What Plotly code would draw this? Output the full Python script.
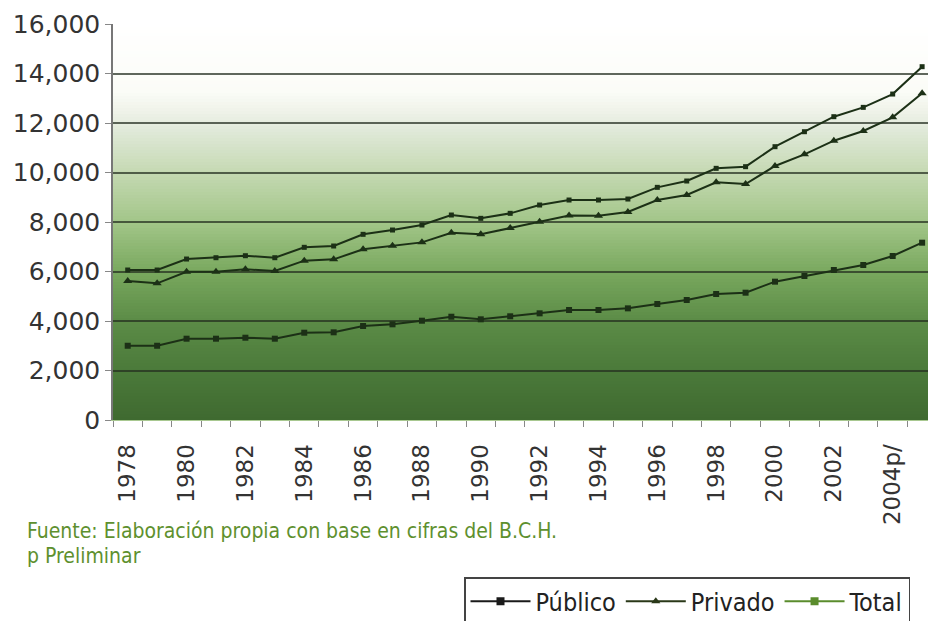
import plotly.graph_objects as go

# Años de la serie (2004 y 2005 preliminares)
years = list(range(1978, 2006))

publico = [3000, 3000, 3285, 3285, 3325, 3285, 3527, 3543, 3798, 3866,
           4012, 4173, 4068, 4190, 4310, 4444, 4444, 4511, 4686, 4848,
           5090, 5144, 5589, 5818, 6060, 6262, 6626, 7164]
privado = [5616, 5522, 5992, 5992, 6087, 6020, 6437, 6491, 6895, 7043,
           7177, 7568, 7501, 7755, 8012, 8260, 8250, 8405, 8888, 9090,
           9602, 9534, 10262, 10733, 11285, 11676, 12228, 13198]
total = [6060, 6060, 6504, 6557, 6638, 6557, 6977, 7030, 7502, 7676,
         7878, 8282, 8148, 8350, 8686, 8888, 8888, 8928, 9400, 9656,
         10168, 10235, 11043, 11648, 12255, 12632, 13170, 14275]

tick_years = list(range(1978, 2005, 2))
tick_text = [str(y) for y in tick_years[:-1]] + ["2004p/"]

W, H = 928, 621
L, R, T, B = 113, 0, 24, 201
PW, PH = W - L - R, H - T - B

LINE_DARK = "#1c3016"
LEGEND_COLORS = {"Público": "#1a1a1a", "Privado": "#2a3818", "Total": "#5a8c2c"}

fig = go.Figure()

# Series plotted in dark tones
for name, vals, sym, size in [("Público", publico, "square", 6),
                              ("Privado", privado, "triangle-up", 8),
                              ("Total", total, "square", 5)]:
    fig.add_trace(go.Scatter(
        x=years, y=vals, mode="lines+markers", name=name, showlegend=False,
        line=dict(color=LINE_DARK, width=2),
        marker=dict(symbol=sym, size=size, color=LINE_DARK),
        hoverinfo="x+y+name"))

# Legend entries
for name, sym in [("Público", "square"), ("Privado", "triangle-up"), ("Total", "square")]:
    c = LEGEND_COLORS[name]
    fig.add_trace(go.Scatter(
        x=[None], y=[None], mode="lines+markers", name=name,
        line=dict(color=c, width=2), marker=dict(symbol=sym, size=8, color=c)))

# Vertical gradient background (white at top to dark green at bottom)
stops = [(24, (255, 255, 255)), (92, (251, 252, 247)), (112, (238, 242, 232)),
         (128, (226, 234, 219)), (175, (195, 216, 176)), (225, (160, 196, 134)),
         (272, (121, 168, 94)), (320, (92, 140, 71)), (370, (75, 122, 58)),
         (420, (63, 106, 48))]


def color_at(py):
    for (y0, c0), (y1, c1) in zip(stops[:-1], stops[1:]):
        if y0 <= py <= y1:
            t = (py - y0) / (y1 - y0)
            return "rgb(%d,%d,%d)" % tuple(round(a + (b - a) * t) for a, b in zip(c0, c1))
    return "rgb(%d,%d,%d)" % stops[-1][1]


shapes = []
band = 3
for py in range(T, T + PH, band):
    y_top = 1 - (py - T) / PH
    y_bot = max(0, 1 - (py + band - T) / PH)
    shapes.append(dict(type="rect", xref="paper", yref="paper", x0=0, x1=1,
                       y0=y_bot, y1=y_top, fillcolor=color_at(py + band / 2),
                       line=dict(width=0), layer="below"))


def px_to_paper(px, py):
    return (px - L) / PW, 1 - (py - T) / PH


note_font = dict(family="Liberation Sans Narrow, DejaVu Sans Condensed, Arial Narrow, sans-serif",
                 size=21, color="#5e902e")
annotations = []
for text, py in [("Fuente: Elaboración propia con base en cifras del B.C.H.", 531),
                 ("p Preliminar", 556)]:
    ax, ay = px_to_paper(25, py)
    annotations.append(dict(text=text, x=ax, y=ay, xref="paper", yref="paper",
                            xanchor="left", yanchor="middle", showarrow=False,
                            font=note_font))

lx, ly = px_to_paper(464, 577)

fig.update_layout(
    width=W, height=H,
    margin=dict(l=L, r=R, t=T, b=B, autoexpand=False),
    paper_bgcolor="white", plot_bgcolor="rgba(0,0,0,0)",
    shapes=shapes, annotations=annotations,
    showlegend=True,
    legend=dict(orientation="h", x=lx, y=ly, xanchor="left", yanchor="top",
                bordercolor="#444444", borderwidth=1.5, bgcolor="white",
                font=dict(family="Liberation Sans Narrow, DejaVu Sans Condensed, Arial Narrow, sans-serif",
                          size=25, color="#222222"),
                itemwidth=60, tracegroupgap=0),
    xaxis=dict(range=[1977.5, 2005.2], tickmode="array", tickvals=tick_years,
               ticktext=tick_text, tickangle=-90, ticks="",
               tickfont=dict(family="DejaVu Sans", size=23, color="#333333"),
               ticklabelstandoff=14, showgrid=False, zeroline=False,
               showline=True, linecolor="#a8c890", linewidth=1,
               minor=dict(tick0=1977.5, dtick=1, ticks="outside", ticklen=6,
                          tickcolor="#888888", showgrid=False)),
    yaxis=dict(range=[0, 16000], dtick=2000, tickformat=",",
               ticks="outside", ticklen=6, tickcolor="#888888",
               tickfont=dict(family="DejaVu Sans", size=25, color="#333333"),
               showgrid=True, gridcolor="rgba(35,45,30,0.72)", gridwidth=2,
               zeroline=False, showline=True, linecolor="#777777", linewidth=1.5),
)

fig.write_html("out.html")
